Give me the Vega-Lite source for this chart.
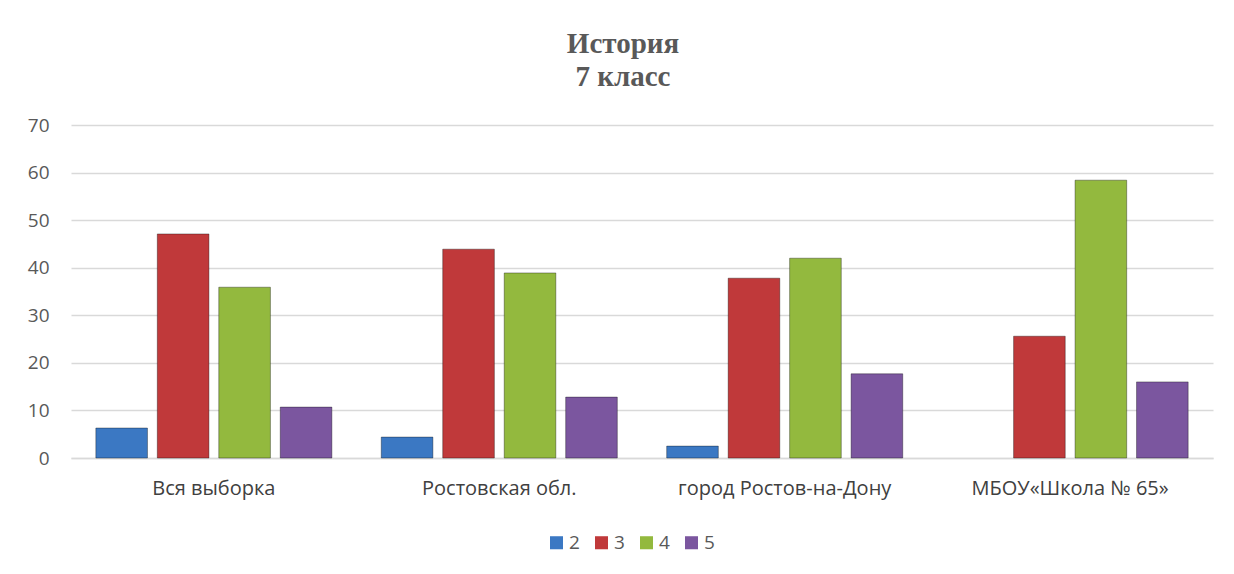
{
  "$schema": "https://vega.github.io/schema/vega-lite/v6.json",
  "width": 1142,
  "height": 333,
  "autosize": {"type": "none"},
  "padding": {"left": 71, "top": 125, "right": 21, "bottom": 116},
  "background": "white",
  "title": {
    "text": ["История", "7 класс"],
    "font": "Liberation Serif",
    "fontSize": 29,
    "fontWeight": "bold",
    "color": "#595959",
    "lineHeight": 33,
    "offset": 24,
    "dx": -19,
    "anchor": "middle"
  },
  "data": {
    "values": [
      {"group": "Вся выборка", "grade": "2", "value": 6.3},
      {"group": "Вся выборка", "grade": "3", "value": 47.1},
      {"group": "Вся выборка", "grade": "4", "value": 35.9},
      {"group": "Вся выборка", "grade": "5", "value": 10.7},
      {"group": "Ростовская обл.", "grade": "2", "value": 4.4},
      {"group": "Ростовская обл.", "grade": "3", "value": 43.9},
      {"group": "Ростовская обл.", "grade": "4", "value": 38.9},
      {"group": "Ростовская обл.", "grade": "5", "value": 12.8},
      {"group": "город Ростов-на-Дону", "grade": "2", "value": 2.5},
      {"group": "город Ростов-на-Дону", "grade": "3", "value": 37.8},
      {"group": "город Ростов-на-Дону", "grade": "4", "value": 42.0},
      {"group": "город Ростов-на-Дону", "grade": "5", "value": 17.7},
      {"group": "МБОУ«Школа № 65»", "grade": "2", "value": 0},
      {"group": "МБОУ«Школа № 65»", "grade": "3", "value": 25.6},
      {"group": "МБОУ«Школа № 65»", "grade": "4", "value": 58.4},
      {"group": "МБОУ«Школа № 65»", "grade": "5", "value": 16.0}
    ]
  },
  "mark": {"type": "bar", "stroke": "#000000", "strokeWidth": 1},
  "encoding": {
    "x": {
      "field": "group",
      "type": "nominal",
      "sort": null,
      "scale": {"paddingInner": 0.173, "paddingOuter": 0.087},
      "axis": {
        "title": null,
        "labelAngle": 0,
        "labelLimit": 0,
        "labelFont": "Open Sans",
        "labelFontSize": 20,
        "labelColor": "#404040",
        "labelPadding": 20,
        "ticks": false,
        "domainColor": "#d9d9d9",
        "domainWidth": 1.5
      }
    },
    "xOffset": {
      "field": "grade",
      "type": "nominal",
      "scale": {"paddingInner": 0.16, "paddingOuter": 0}
    },
    "y": {
      "field": "value",
      "type": "quantitative",
      "scale": {"domain": [0, 70]},
      "axis": {
        "title": null,
        "values": [0, 10, 20, 30, 40, 50, 60, 70],
        "labelFont": "Open Sans",
        "labelFontSize": 19,
        "labelColor": "#595959",
        "labelPadding": 22,
        "ticks": false,
        "domain": false,
        "gridColor": "#d9d9d9",
        "gridWidth": 1.5
      }
    },
    "strokeOpacity": {
      "condition": {"test": "datum.value == 0", "value": 0},
      "value": 0.35
    },
    "color": {
      "field": "grade",
      "type": "nominal",
      "scale": {"domain": ["2", "3", "4", "5"], "range": ["#3b78c3", "#c0393a", "#93b93e", "#7b569f"]},
      "legend": {
        "title": null,
        "orient": "none",
        "legendX": 476,
        "legendY": 408,
        "direction": "horizontal",
        "symbolType": "square",
        "symbolSize": 170,
        "symbolStrokeWidth": 0,
        "labelFont": "Open Sans",
        "labelFontSize": 19,
        "labelColor": "#595959",
        "labelOffset": 3,
        "columnPadding": 12
      }
    }
  },
  "config": {
    "view": {"stroke": null}
  }
}
